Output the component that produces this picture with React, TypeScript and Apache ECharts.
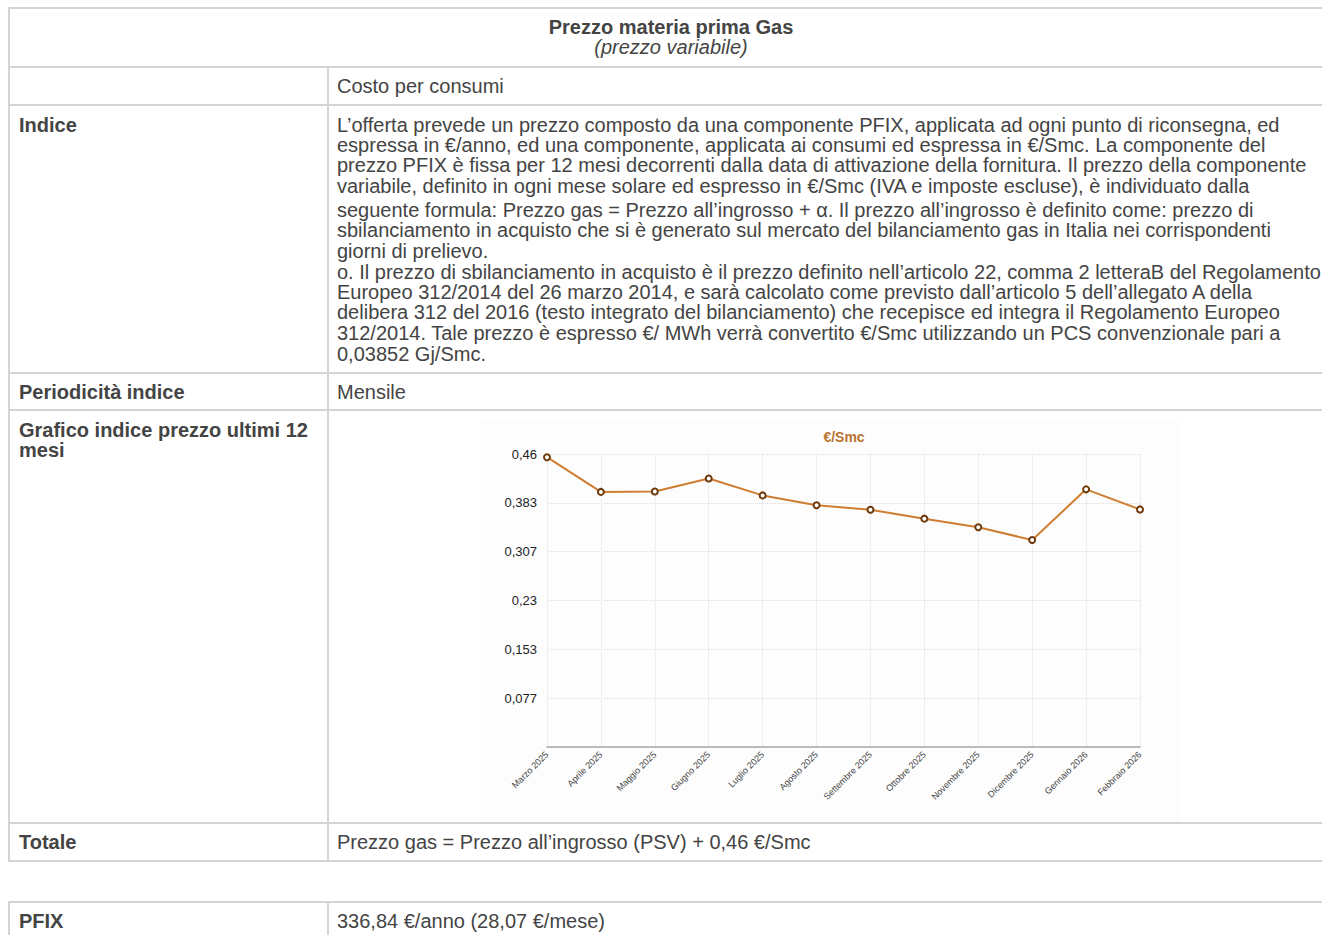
import React, { useEffect, useRef } from "react";
import * as echarts from "echarts";

const months = [
  "Marzo 2025", "Aprile 2025", "Maggio 2025", "Giugno 2025", "Luglio 2025", "Agosto 2025",
  "Settembre 2025", "Ottobre 2025", "Novembre 2025", "Dicembre 2025", "Gennaio 2026", "Febbraio 2026",
];
const prices = [0.455, 0.4005, 0.401, 0.4215, 0.395, 0.3795, 0.3725, 0.3585, 0.345, 0.325, 0.4045, 0.373];
const yMax = 0.46;
const ySteps = 6;
const chartTitle = "€/Smc";

const paragraphLines = [
  "L’offerta prevede un prezzo composto da una componente PFIX, applicata ad ogni punto di riconsegna, ed",
  "espressa in €/anno, ed una componente, applicata ai consumi ed espressa in €/Smc. La componente del",
  "prezzo PFIX è fissa per 12 mesi decorrenti dalla data di attivazione della fornitura. Il prezzo della componente",
  "variabile, definito in ogni mese solare ed espresso in €/Smc (IVA e imposte escluse), è individuato dalla",
  "seguente formula: Prezzo gas = Prezzo all’ingrosso + α. Il prezzo all’ingrosso è definito come: prezzo di",
  "sbilanciamento in acquisto che si è generato sul mercato del bilanciamento gas in Italia nei corrispondenti",
  "giorni di prelievo.",
  "o. Il prezzo di sbilanciamento in acquisto è il prezzo definito nell’articolo 22, comma 2 letteraB del Regolamento",
  "Europeo 312/2014 del 26 marzo 2014, e sarà calcolato come previsto dall’articolo 5 dell’allegato A della",
  "delibera 312 del 2016 (testo integrato del bilanciamento) che recepisce ed integra il Regolamento Europeo",
  "312/2014. Tale prezzo è espresso €/ MWh verrà convertito €/Smc utilizzando un PCS convenzionale pari a",
  "0,03852 Gj/Smc.",
];
const paragraphY = [125, 145, 165, 186, 210, 230, 251, 272, 292, 312, 333, 354];

const FONT = '"Liberation Sans", Arial, Helvetica, sans-serif';
const BORDER = "#d4d4d4";
const TEXT = "#444";

function Chart() {
  const ref = useRef<HTMLDivElement>(null);
  useEffect(() => {
    if (!ref.current) return;
    const chart = echarts.init(ref.current, undefined, { renderer: "svg" });
    chart.setOption({
      animation: false,
      backgroundColor: "#fdfdfd",
      textStyle: { fontFamily: FONT },
      title: {
        text: chartTitle,
        left: 360,
        textAlign: "center",
        top: 5,
        textStyle: { fontSize: 14, fontWeight: "bold", color: "#b8722e", fontFamily: FONT },
      },
      grid: { left: 68, right: 41, top: 34, bottom: 75, containLabel: false },
      xAxis: {
        type: "category",
        data: months,
        boundaryGap: false,
        axisLine: { show: true, lineStyle: { color: "#a8a8a8", width: 1.5 } },
        axisTick: { show: false },
        axisLabel: { rotate: 45, fontSize: 9, color: "#444", margin: 6, fontFamily: FONT, interval: 0 },
        splitLine: { show: true, lineStyle: { color: "#eeeeee", width: 1 } },
      },
      yAxis: {
        type: "value",
        min: 0,
        max: yMax,
        interval: yMax / ySteps,
        axisLine: { show: false },
        axisTick: { show: false },
        axisLabel: {
          fontSize: 13,
          color: "#222",
          margin: 10,
          fontFamily: FONT,
          formatter: (v: number) => (v === 0 ? "" : String(parseFloat(v.toFixed(3))).replace(".", ",")),
        },
        splitLine: { show: true, lineStyle: { color: "#dddddd", type: "dotted", width: 1 } },
      },
      series: [
        {
          type: "line",
          data: prices,
          symbol: "circle",
          symbolSize: 6,
          lineStyle: { color: "#cf7d31", width: 2 },
          itemStyle: { color: "#ffffff", borderColor: "#6e3a0c", borderWidth: 2 },
        },
      ],
    });
    return () => chart.dispose();
  }, []);
  return <div ref={ref} style={{ width: 702, height: 402 }} />;
}

const H = ({ y, x1 = 9, x2 = 1322 }: { y: number; x1?: number; x2?: number }) => (
  <div style={{ position: "absolute", left: x1, top: y - 1, width: x2 - x1, height: 2, background: BORDER }} />
);
const V = ({ x, y1, y2 }: { x: number; y1: number; y2: number }) => (
  <div style={{ position: "absolute", left: x - 1, top: y1 - 1, width: 2, height: y2 - y1 + 2, background: BORDER }} />
);
const T = ({
  x, y, text, bold, italic, center,
}: { x: number; y: number; text: string; bold?: boolean; italic?: boolean; center?: boolean }) => (
  <div
    style={{
      position: "absolute",
      left: center ? x - 400 : x,
      width: center ? 800 : undefined,
      textAlign: center ? "center" : "left",
      top: y - 9,
      height: 18,
      lineHeight: "18px",
      fontSize: 20,
      fontWeight: bold ? "bold" : "normal",
      fontStyle: italic ? "italic" : "normal",
      whiteSpace: "nowrap",
      color: TEXT,
      fontFamily: FONT,
    }}
  >
    {text}
  </div>
);

export default function App() {
  useEffect(() => {
    document.body.style.margin = "0";
    document.body.style.overflow = "hidden";
  }, []);
  return (
    <div style={{ position: "relative", width: 1322, height: 935, overflow: "hidden", background: "#fff", fontFamily: FONT }}>
      <H y={8} />
      <H y={67} />
      <H y={105} />
      <H y={373} />
      <H y={410} />
      <H y={823} />
      <H y={861} />
      <V x={9} y1={8} y2={861} />
      <V x={328} y1={67} y2={861} />
      <H y={902} />
      <V x={9} y1={902} y2={940} />
      <V x={328} y1={902} y2={940} />

      <T x={671} y={27} text="Prezzo materia prima Gas" bold center />
      <T x={671} y={47} text="(prezzo variabile)" italic center />
      <T x={337} y={86} text="Costo per consumi" />
      <T x={19} y={125} text="Indice" bold />
      {paragraphLines.map((l, i) => (
        <T key={i} x={337} y={paragraphY[i]} text={l} />
      ))}
      <T x={19} y={392} text="Periodicità indice" bold />
      <T x={337} y={392} text="Mensile" />
      <T x={19} y={430} text="Grafico indice prezzo ultimi 12" bold />
      <T x={19} y={450} text="mesi" bold />
      <div style={{ position: "absolute", left: 479, top: 420 }}>
        <Chart />
      </div>
      <T x={19} y={842} text="Totale" bold />
      <T x={337} y={842} text="Prezzo gas = Prezzo all’ingrosso (PSV) + 0,46 €/Smc" />
      <T x={19} y={921} text="PFIX" bold />
      <T x={337} y={921} text="336,84 €/anno (28,07 €/mese)" />
    </div>
  );
}
